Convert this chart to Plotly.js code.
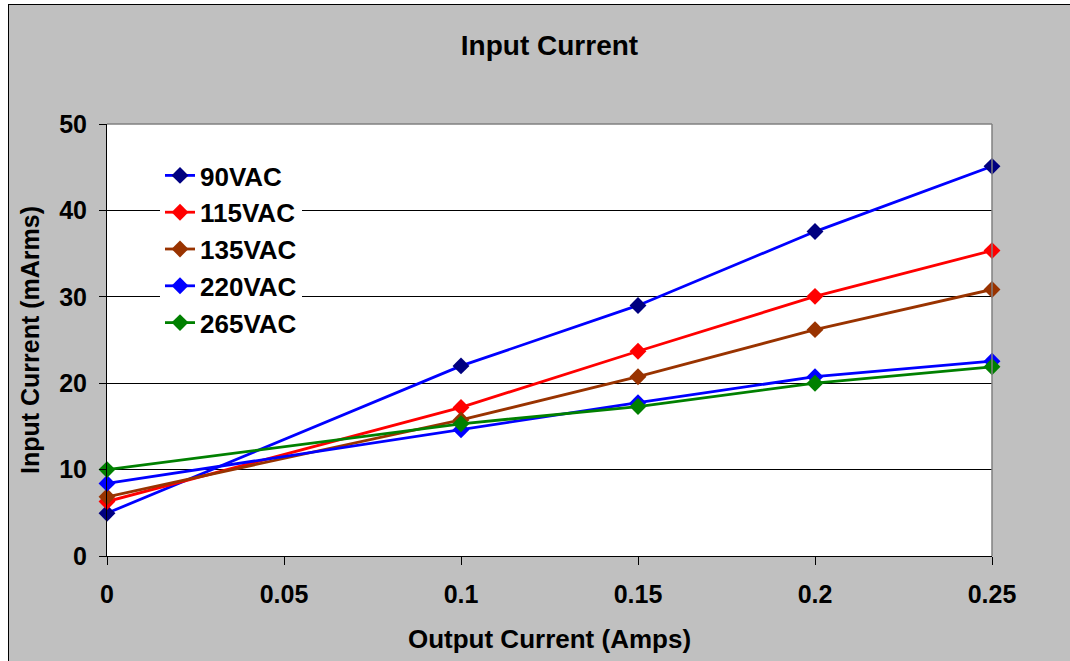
<!DOCTYPE html>
<html>
<head>
<meta charset="utf-8">
<script src="https://cdn.plot.ly/plotly-3.0.1.min.js"></script>
<style>
  html, body { margin: 0; padding: 0; background: #ffffff; width: 1070px; height: 661px; overflow: hidden; }
  #frame { position: absolute; left: 8px; top: 4px; width: 1062px; height: 657px; border-left: 1px solid #000; border-top: 1px solid #000; background: #c0c0c0; }
  #chart { width: 1062px; height: 657px; }
</style>
</head>
<body>
<div id="frame"><div id="chart"></div></div>
<script>
// Data
const outputCurrent = [0, 0.1, 0.15, 0.2, 0.25];
const v90  = [4.95, 22.0, 29.0, 37.55, 45.1];
const v115 = [6.3, 17.2, 23.7, 30.05, 35.35];
const v135 = [6.85, 15.75, 20.75, 26.2, 30.85];
const v220 = [8.4, 14.6, 17.75, 20.75, 22.55];
const v265 = [10.0, 15.3, 17.3, 20.0, 21.9];
const seriesNames = ["90VAC", "115VAC", "135VAC", "220VAC", "265VAC"];
const xTickVals = [0, 0.05, 0.1, 0.15, 0.2, 0.25];
const xTickText = ["0", "0.05", "0.1", "0.15", "0.2", "0.25"];
const yTickVals = [0, 10, 20, 30, 40, 50];

const lineColors   = ["#0000ff", "#ff0000", "#993300", "#0000ff", "#008000"];
const markerColors = ["#000080", "#ff0000", "#993300", "#0000ff", "#008000"];
const seriesValues = [v90, v115, v135, v220, v265];

const FONT = "Arial, 'Liberation Sans', sans-serif";

const traces = seriesValues.map((vals, i) => ({
  x: outputCurrent,
  y: vals,
  name: "<b>" + seriesNames[i] + "</b>",
  type: "scatter",
  mode: "lines+markers",
  line: { color: lineColors[i], width: 2.8 },
  marker: { symbol: "diamond", size: 13, color: markerColors[i], line: { width: 0 } },
  cliponaxis: false
}));

// plot area in page px: x 107..992, y 124..556 ; frame offset (9,5)
const layout = {
  width: 1062,
  height: 657,
  paper_bgcolor: "#c0c0c0",
  plot_bgcolor: "#ffffff",
  margin: { l: 98, r: 79, t: 119, b: 106, pad: 0 },
  font: { family: FONT, color: "#000", size: 25 },
  title: {
    text: "<b>Input Current</b>",
    font: { family: FONT, size: 28, color: "#000" },
    x: 0.5, xref: "paper", xanchor: "center",
    y: 1 - (45 - 5) / 657, yref: "container", yanchor: "middle"
  },
  xaxis: {
    range: [0, 0.25],
    tickmode: "array",
    tickvals: xTickVals,
    ticktext: xTickText.map(t => "<b>" + t + "</b>"),
    ticks: "outside", ticklen: 8, tickwidth: 1, tickcolor: "#000",
    ticklabelstandoff: 8,
    showline: true, linecolor: "#000", linewidth: 1,
    showgrid: false, zeroline: false,
    tickfont: { family: FONT, size: 25, color: "#000" },
    title: { text: "<b>Output Current (Amps)</b>", font: { family: FONT, size: 26, color: "#000" }, standoff: 22 },
    fixedrange: true
  },
  yaxis: {
    range: [0, 50],
    tickmode: "array",
    tickvals: yTickVals,
    ticktext: yTickVals.map(v => "<b>" + v + "</b>"),
    ticks: "outside", ticklen: 7, tickwidth: 1, tickcolor: "#000",
    ticklabelstandoff: 7,
    showline: true, linecolor: "#000", linewidth: 1,
    showgrid: true, gridcolor: "#000", gridwidth: 1,
    zeroline: false,
    tickfont: { family: FONT, size: 25, color: "#000" },
    title: { text: "<b>Input Current (mArms)</b>", font: { family: FONT, size: 25, color: "#000" }, standoff: 12 },
    fixedrange: true
  },
  shapes: [
    { type: "line", xref: "paper", yref: "paper", x0: 0, x1: 1, y0: 1, y1: 1, line: { color: "#808080", width: 1.5 } },
    { type: "line", xref: "paper", yref: "paper", x0: 1, x1: 1, y0: 0, y1: 1, line: { color: "#808080", width: 1.5 } }
  ],
  legend: {
    x: (160 - 107) / 885, xanchor: "left",
    y: 1 - (152 - 124) / 432, yanchor: "top",
    bgcolor: "#ffffff",
    borderwidth: 0,
    font: { family: FONT, size: 26, color: "#000" },
    itemclick: false, itemdoubleclick: false,
    tracegroupgap: 0
  },
  showlegend: true
};

Plotly.newPlot("chart", traces, layout, { displayModeBar: false, staticPlot: true });
</script>
</body>
</html>
